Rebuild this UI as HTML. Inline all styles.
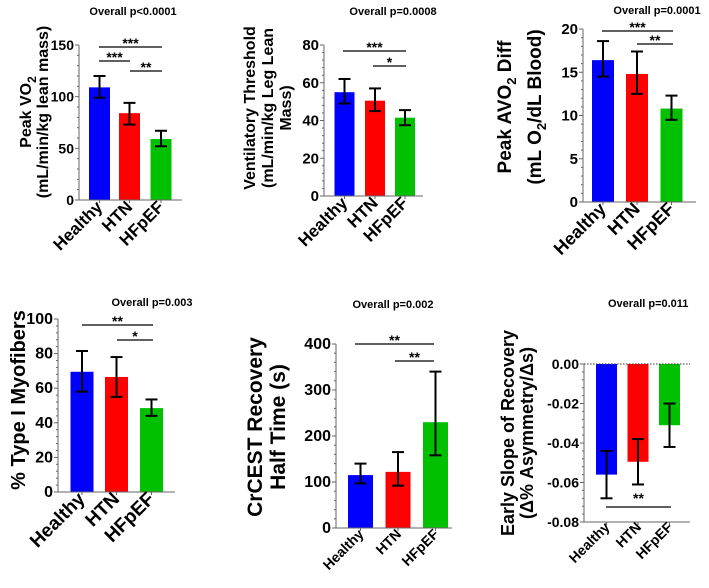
<!DOCTYPE html>
<html><head><meta charset="utf-8">
<style>
html,body{margin:0;padding:0;background:#fff;}
svg{display:block;font-family:"Liberation Sans",Arial,sans-serif;font-weight:bold;}
</style></head>
<body>
<svg id="fig" width="709" height="588" viewBox="0 0 709 588" xmlns="http://www.w3.org/2000/svg"></svg>
<script>
const categories = ["Healthy","HTN","HFpEF"];
const colors = ["#0000ff","#ff0000","#00c000"];
const peakVO2 = [109,84,59];
const peakVO2Lo = [99,73,52];
const peakVO2Hi = [120,94,67];
const ventThr = [55,50.5,41.5];
const ventThrLo = [49,45,37.5];
const ventThrHi = [62,57,45.5];
const avo2 = [16.4,14.8,10.8];
const avo2Lo = [14.5,12.5,9.5];
const avo2Hi = [18.6,17.4,12.3];
const typeI = [69.5,66.5,48.5];
const typeILo = [58,55,44];
const typeIHi = [81.5,78,53.5];
const crcest = [115,122,230];
const crcestLo = [97,92,158];
const crcestHi = [140,165,340];
const slope = [-0.056,-0.0495,-0.031];
const slopeLo = [-0.068,-0.061,-0.042];
const slopeHi = [-0.044,-0.038,-0.020];
const ticks1 = [0,50,100,150];
const ticks2 = [0,20,40,60,80];
const ticks3 = [0,5,10,15,20];
const ticks4 = [0,20,40,60,80,100];
const ticks5 = [0,100,200,300,400];
const ticks6 = [0,-0.02,-0.04,-0.06,-0.08];

const NS="http://www.w3.org/2000/svg";
const svg=document.getElementById('fig');
function mk(tag,attrs,parent,text){
  const e=document.createElementNS(NS,tag);
  for(const k in attrs)e.setAttribute(k,attrs[k]);
  if(text!==undefined)e.textContent=text;
  (parent||svg).appendChild(e);return e;
}

function panel(cfg){
  const g=mk('g',{});
  
  
  const y=v=>cfg.y0+(v-cfg.min)/(cfg.max-cfg.min)*(cfg.y1-cfg.y0);
  const t=mk('text',{x:cfg.titleX,y:cfg.titleY,'font-size':11,'text-anchor':cfg.titleAnchor||'middle'},g,cfg.title);
  
  
  const lab=mk('text',{transform:`translate(0,${cfg.labY}) rotate(-90)`,'font-size':cfg.labSize,'text-anchor':'middle'},g);
  
  
  cfg.labLines.forEach((ln,i)=>{
    const ts=mk('tspan',{x:0,y:cfg.labX[i]},lab);
    ts.innerHTML=ln;
  });
  const bw=cfg.bw;
  cfg.vals.forEach((v,i)=>{
    const cx=cfg.bx[i];
    const base=y(cfg.base);
    const yv=y(v);
    const b=mk('rect',{x:cx-bw/2,y:Math.min(base,yv),width:bw,height:Math.abs(base-yv),fill:colors[i]},g);
    
    
    const e=mk('g',{stroke:'#000','stroke-width':2},g);
    
    
    mk('line',{x1:cx,x2:cx,y1:y(cfg.lo[i]),y2:y(cfg.hi[i])},e);
    mk('line',{x1:cx-6,x2:cx+6,y1:y(cfg.lo[i]),y2:y(cfg.lo[i])},e);
    mk('line',{x1:cx-6,x2:cx+6,y1:y(cfg.hi[i]),y2:y(cfg.hi[i])},e);
  });
  const ax=mk('g',{stroke:'#666','stroke-width':1},g);
  
  
  mk('line',{x1:cfg.ax,x2:cfg.ax,y1:y(cfg.max),y2:y(cfg.min)},ax);
  if(cfg.dottedZero){
    mk('line',{x1:cfg.ax,x2:cfg.axEnd,y1:y(0),y2:y(0),'stroke-dasharray':'1.5,1.5',stroke:'#333'},ax);
  }
  mk('line',{x1:cfg.ax,x2:cfg.axEnd,y1:y(cfg.min),y2:y(cfg.min)},ax);
  const n=(cfg.ticks.length-1)*5;
  for(let k=0;k<=n;k++){
    const v=cfg.ticks[0]+(cfg.ticks[cfg.ticks.length-1]-cfg.ticks[0])*k/n;
    mk('line',{x1:cfg.ax-(k%5===0?4:2),x2:cfg.ax,y1:y(v),y2:y(v)},ax);
  }
  cfg.bx.forEach(cx=>{
    const yy=y(cfg.min);
    mk('line',{x1:cx,x2:cx,y1:yy,y2:yy+3},ax);
  });
  cfg.ticks.forEach(v=>{
    const tl=mk('text',{x:cfg.ax-5,y:y(v)+5,'font-size':cfg.tickSize,'text-anchor':'end'},g,cfg.fmt?cfg.fmt(v):String(v));
    
    
  });
  categories.forEach((c,i)=>{
    const xx=cfg.bx[i]+4, yy=y(cfg.min)+cfg.xlOff;
    const xl=mk('text',{transform:`translate(${xx},${yy}) rotate(-45)`,'font-size':cfg.xSize,'text-anchor':'end'},g,c);
    
    
  });
  cfg.sig.forEach(s=>{
    const sg=mk('g',{},g);
    
    
    mk('line',{x1:s[0],x2:s[1],y1:s[2],y2:s[2],stroke:'#000','stroke-width':1.3},sg);
    mk('text',{x:(s[0]+s[1])/2,y:s[4]!==undefined?s[4]:s[2]+1,'font-size':14,'text-anchor':'middle'},sg,s[3]);
  });
}

panel({name:'panel-peak-vo2',min:0,max:150,y0:200,y1:45,base:0,vals:peakVO2,lo:peakVO2Lo,hi:peakVO2Hi,
 ticks:ticks1,ax:79,axEnd:182,bx:[99.5,129.5,161],bw:21,tickSize:14,xSize:17,xlOff:8,
 title:'Overall p<0.0001',titleX:133,titleY:15,labLines:['Peak VO<tspan font-size="12" dy="5">2</tspan>','(mL/min/kg lean mass)'],labX:[31,48],labY:112,labSize:16,
 sig:[[99,162,47,'***'],[99,130,61,'***'],[130,162,71,'**']]});
panel({name:'panel-ventilatory-threshold',min:0,max:80,y0:196,y1:45,base:0,vals:ventThr,lo:ventThrLo,hi:ventThrHi,
 ticks:ticks2,ax:324,axEnd:423,bx:[344.5,375,405],bw:20,tickSize:15,xSize:17,xlOff:8,
 title:'Overall p=0.0008',titleX:393,titleY:15,labLines:['Ventilatory Threshold','(mL/min/kg Leg Lean','Mass)'],labX:[255,273,291],labY:108,labSize:16,
 sig:[[343,406,51,'***'],[373,406,66,'*']]});
panel({name:'panel-peak-avo2',min:0,max:20,y0:202,y1:29,base:0,vals:avo2,lo:avo2Lo,hi:avo2Hi,
 ticks:ticks3,ax:583,axEnd:696,bx:[603,637,671.5],bw:22,tickSize:15,xSize:18,xlOff:8,
 title:'Overall p=0.0001',titleX:657,titleY:14,labLines:['Peak AVO<tspan font-size="13" dy="5">2</tspan><tspan dy="-5"> Diff</tspan>','(mL O<tspan font-size="13" dy="5">2</tspan><tspan dy="-5">/dL Blood)</tspan>'],labX:[511,541],labY:107,labSize:19,
 sig:[[602,673,31,'***'],[637,673,44,'**']]});
panel({name:'panel-type-i-myofibers',min:0,max:100,y0:492,y1:319,base:0,vals:typeI,lo:typeILo,hi:typeIHi,
 ticks:ticks4,ax:58,axEnd:175,bx:[82,116.5,151.5],bw:23,tickSize:16,xSize:19,xlOff:8,
 title:'Overall p=0.003',titleX:152,titleY:306,labLines:['% Type I Myofibers'],labX:[25],labY:400,labSize:20,
 sig:[[82,153,325,'**'],[117,153,340,'*']]});
panel({name:'panel-crcest-recovery',min:0,max:400,y0:528,y1:344,base:0,vals:crcest,lo:crcestLo,hi:crcestHi,
 ticks:ticks5,ax:336,axEnd:452,bx:[360.5,398,435.5],bw:25,tickSize:16,xSize:14,xlOff:7,
 title:'Overall p=0.002',titleX:393,titleY:308,labLines:['CrCEST Recovery','Half Time (s)'],labX:[262,285],labY:427,labSize:21,
 sig:[[355,434,344,'**'],[395,434,361,'**']]});
panel({name:'panel-early-slope',min:-0.08,max:0,y0:522,y1:364,base:0,vals:slope,lo:slopeLo,hi:slopeHi,
 ticks:ticks6,ax:584,axEnd:690,bx:[606.5,638,669.5],bw:21,tickSize:14,xSize:14,xlOff:6,dottedZero:true,fmt:v=>v.toFixed(2),
 title:'Overall p=0.011',titleX:608,titleY:307,titleAnchor:'start',labLines:['Early Slope of Recovery','(Δ% Asymmetry/Δs)'],labX:[514,533],labY:433,labSize:18,
 sig:[[606,671,507,'**',503]]});
</script>
</body></html>
